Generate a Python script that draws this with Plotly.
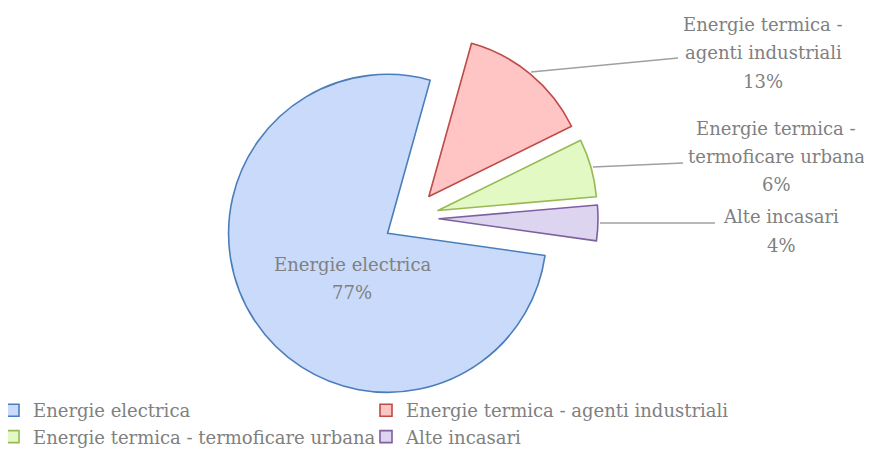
import plotly.graph_objects as go

# ---- data ----
categories = [
    "Energie electrica",
    "Energie termica - agenti industriali",
    "Energie termica - termoficare urbana",
    "Alte incasari",
]
values = [77.1, 13.4, 5.9, 3.6]
label_lines = [
    ["Energie electrica"],
    ["Energie termica -", "agenti industriali"],
    ["Energie termica -", "termoficare urbana"],
    ["Alte incasari"],
]

fills = ["#c9dafb", "#ffc4c4", "#e3f9c4", "#ddd4ef"]
edges = ["#4a7ebb", "#be4b48", "#98b954", "#7d60a0"]
W, H = 872, 455
OFF = 8  # page offset of the figure (body margin)
FONT = "DejaVu Serif"
FS = 18
GRAY = "#808080"

def px(x):
    return (x - OFF) / W

def py(y):
    return 1 - (y - OFF) / H

total = sum(values)
pcts = [v / total * 100 for v in values]

fig = go.Figure(go.Pie(
    labels=categories,
    values=values,
    sort=False,
    direction="clockwise",
    rotation=98,
    pull=[0.176] * 4,
    marker=dict(colors=fills, line=dict(color=edges, width=1.6)),
    textinfo="none",
    domain=dict(x=[px(224), px(598)], y=[py(405), py(31)]),
    hoverinfo="label+percent",
))

# data labels (page pixel positions: x centre, first line y, line step)
label_pos = {0: (352, 264), 1: (763, 25), 2: (776, 129), 3: (781, 217)}
STEP = 28
leaders = {1: ((531, 72), (678, 58)), 2: ((593, 167), (683, 163)), 3: ((600, 223), (715, 223))}
anns = []
shapes = []
for i, (lx, ly) in label_pos.items():
    lines = label_lines[i] + [f"{pcts[i]:.0f}%"]
    for k, line in enumerate(lines):
        anns.append(dict(x=px(lx), y=py(ly + k * STEP), xref="paper", yref="paper",
                         text=line, showarrow=False, xanchor="center", yanchor="middle",
                         font=dict(family=FONT, size=FS, color=GRAY)))
for i, ((x0, y0), (x1, y1)) in leaders.items():
    shapes.append(dict(type="line", xref="paper", yref="paper",
                       x0=px(x0), y0=py(y0), x1=px(x1), y1=py(y1),
                       line=dict(color="#a0a0a0", width=1.5)))

fig.update_layout(
    width=W, height=H,
    margin=dict(l=0, r=0, t=0, b=0, autoexpand=False),
    paper_bgcolor="white",
    plot_bgcolor="white",
    font=dict(family=FONT, color=GRAY),
    annotations=anns,
    shapes=shapes,
    showlegend=True,
    legend=dict(
        orientation="h",
        x=0, y=py(392), xanchor="left", yanchor="top",
        entrywidth=343, entrywidthmode="pixels",
        indentation=-15,
        font=dict(family=FONT, size=FS, color=GRAY),
        traceorder="normal",
        bgcolor="rgba(0,0,0,0)",
    ),
)

fig.write_html("out.html")
